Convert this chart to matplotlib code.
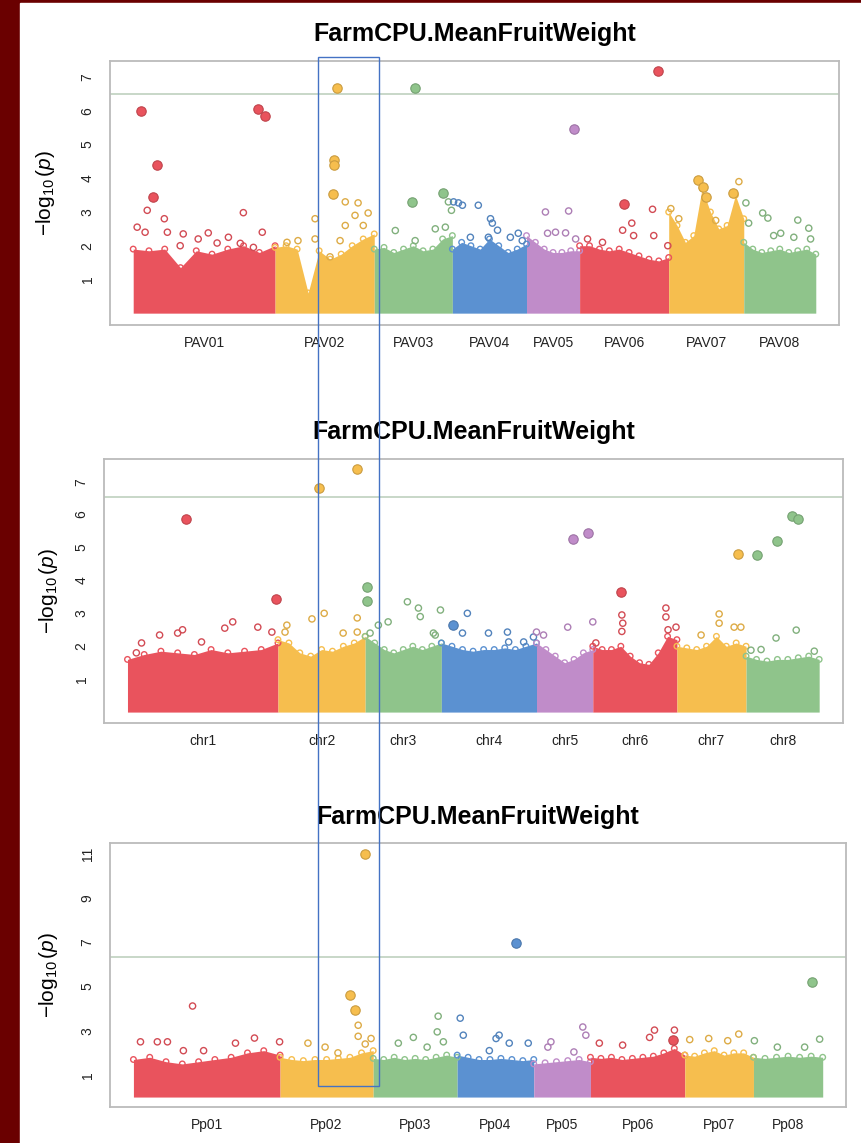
import numpy as np
import matplotlib.pyplot as plt
from matplotlib.patches import Rectangle
from matplotlib.colors import to_rgb

plt.rcParams['font.family'] = ['Liberation Sans', 'DejaVu Sans']
plt.rcParams['mathtext.fontset'] = 'custom'
plt.rcParams['mathtext.rm'] = 'Liberation Sans'
plt.rcParams['mathtext.it'] = 'Liberation Sans:italic'

title = "FarmCPU.MeanFruitWeight"
chrom_colors = ['#E9535D', '#F6BE4E', '#8FC48B', '#5B91D1',
                '#C08CC9', '#E9535D', '#F6BE4E', '#8FC48B']

# ---- panel 1 : PAV markers ----
pav_names = ["PAV01", "PAV02", "PAV03", "PAV04", "PAV05", "PAV06", "PAV07", "PAV08"]
pav_lengths = [46.5, 32.5, 25.6, 24.3, 17.4, 29.2, 24.6, 23.6]
pav_bulk = [[1.9, 1.85, 1.9, 1.35, 1.85, 1.75, 1.9, 2.0, 1.8, 2.0],
            [1.95, 2.0, 1.9, 0.6, 1.85, 1.6, 1.75, 2.0, 2.2, 2.35],
            [1.9, 1.95, 1.8, 1.9, 2.0, 1.85, 1.9, 2.2, 2.3],
            [1.9, 2.1, 2.0, 1.9, 2.2, 2.0, 1.8, 1.9, 2.05],
            [2.3, 2.1, 1.9, 1.8, 1.8, 1.85, 1.85],
            [2.0, 2.0, 1.9, 1.85, 1.9, 1.8, 1.7, 1.6, 1.55, 1.65],
            [3.0, 2.6, 2.1, 2.3, 3.7, 3.0, 2.5, 2.6, 3.5, 2.8],
            [2.1, 1.9, 1.8, 1.85, 1.9, 1.8, 1.85, 1.9, 1.75]]
# (chromosome index, position Mb, -log10 p, filled)
pav_hits = [(0, 2.6, 6.0, 1), (0, 41.0, 6.05, 1), (0, 43.3, 5.85, 1), (0, 7.9, 4.4, 1),
            (0, 6.6, 3.45, 1), (0, 4.6, 3.05, 0), (0, 36.1, 2.98, 0), (0, 10.2, 2.8, 0),
            (0, 1.3, 2.55, 0), (0, 3.9, 2.4, 0), (0, 16.4, 2.35, 0), (0, 24.6, 2.38, 0),
            (0, 11.2, 2.4, 0), (0, 42.3, 2.4, 0), (0, 31.2, 2.25, 0), (0, 21.3, 2.2, 0),
            (0, 15.4, 2.0, 0), (0, 39.4, 1.95, 0), (0, 35.1, 2.07, 0), (0, 27.5, 2.08, 0),
            (1, 20.3, 6.68, 1), (1, 19.3, 4.55, 1), (1, 19.3, 4.4, 1), (1, 19.0, 3.53, 1),
            (1, 23.0, 3.3, 0), (1, 27.2, 3.27, 0), (1, 13.1, 2.8, 0), (1, 26.2, 2.9, 0),
            (1, 30.5, 2.97, 0), (1, 23.0, 2.6, 0), (1, 28.9, 2.6, 0), (1, 13.1, 2.2, 0),
            (1, 21.3, 2.15, 0), (1, 18.0, 1.67, 0), (1, 3.9, 2.1, 0), (1, 7.5, 2.15, 0),
            (2, 13.4, 6.68, 1), (2, 12.5, 3.3, 1), (2, 6.9, 2.45, 0), (2, 22.6, 3.55, 1),
            (2, 24.3, 3.3, 0), (2, 25.3, 3.05, 0), (2, 23.3, 2.55, 0), (2, 20.0, 2.5, 0),
            (2, 13.4, 2.15, 0),
            (3, 2.0, 3.27, 0), (3, 0.4, 3.3, 0), (3, 3.3, 3.2, 0), (3, 8.5, 3.2, 0),
            (3, 12.5, 2.8, 0), (3, 13.1, 2.67, 0), (3, 14.8, 2.46, 0), (3, 11.8, 2.25, 0),
            (3, 21.6, 2.37, 0), (3, 19.0, 2.25, 0), (3, 22.9, 2.15, 0), (3, 5.9, 2.25, 0),
            (4, 15.4, 5.46, 1), (4, 6.2, 3.0, 0), (4, 13.8, 3.03, 0), (4, 6.9, 2.37, 0),
            (4, 9.5, 2.4, 0), (4, 12.8, 2.38, 0), (4, 16.1, 2.2, 0),
            (5, 25.6, 7.18, 1), (5, 14.4, 3.23, 1), (5, 23.9, 3.08, 0), (5, 17.1, 2.67, 0),
            (5, 14.1, 2.46, 0), (5, 17.7, 2.3, 0), (5, 24.3, 2.3, 0), (5, 2.6, 2.2, 0),
            (5, 7.5, 2.1, 0), (5, 28.9, 2.0, 0),
            (6, 0.7, 3.1, 0), (6, 3.3, 2.8, 0), (6, 9.5, 3.95, 1), (6, 11.1, 3.75, 1),
            (6, 12.1, 3.45, 1), (6, 15.4, 2.75, 0), (6, 21.0, 3.55, 1), (6, 23.0, 3.9, 0),
            (7, 0.7, 3.27, 0), (7, 1.6, 2.67, 0), (7, 6.2, 2.97, 0), (7, 7.9, 2.82, 0),
            (7, 17.7, 2.76, 0), (7, 21.3, 2.52, 0), (7, 12.1, 2.37, 0), (7, 16.4, 2.25, 0),
            (7, 21.9, 2.2, 0), (7, 9.8, 2.3, 0)]
pav_threshold = 6.5

# ---- panel 2 : chr SNPs ----
chr_names = ["chr1", "chr2", "chr3", "chr4", "chr5", "chr6", "chr7", "chr8"]
chr_lengths = [49.2, 28.5, 24.9, 31.1, 18.4, 27.5, 22.6, 23.9]
chr_bulk = [[1.6, 1.75, 1.85, 1.8, 1.75, 1.9, 1.8, 1.85, 1.9, 2.1],
            [2.2, 2.1, 1.8, 1.7, 1.9, 1.85, 2.0, 2.1, 2.3],
            [2.3, 2.1, 1.9, 1.8, 1.9, 2.0, 1.9, 2.0, 2.1],
            [2.1, 2.0, 1.9, 1.85, 1.9, 1.9, 1.95, 1.9, 2.0, 2.1],
            [2.1, 1.9, 1.7, 1.5, 1.6, 1.8, 1.9],
            [2.0, 1.9, 1.9, 2.0, 1.7, 1.5, 1.45, 1.8, 2.3, 2.2],
            [2.0, 1.95, 1.9, 2.0, 2.3, 2.0, 2.1, 2.0],
            [1.7, 1.6, 1.55, 1.6, 1.6, 1.65, 1.7, 1.6]]
chr_hits = [(0, 19.0, 5.87, 1), (0, 48.5, 3.43, 1), (0, 34.4, 2.74, 0), (0, 31.8, 2.55, 0),
            (0, 42.6, 2.58, 0), (0, 18.0, 2.5, 0), (0, 16.4, 2.4, 0), (0, 10.5, 2.34, 0),
            (0, 47.2, 2.43, 0), (0, 4.6, 2.1, 0), (0, 24.2, 2.13, 0), (0, 2.9, 1.8, 0),
            (1, 13.4, 6.81, 1), (1, 25.9, 7.39, 1), (1, 11.1, 2.83, 0), (1, 15.1, 3.0, 0),
            (1, 25.9, 2.86, 0), (1, 25.9, 2.43, 0), (1, 2.9, 2.64, 0), (1, 2.3, 2.43, 0),
            (1, 21.3, 2.4, 0),
            (2, 0.7, 3.8, 1), (2, 0.7, 3.37, 1), (2, 13.8, 3.35, 0), (2, 17.4, 3.16, 0),
            (2, 18.0, 2.9, 0), (2, 24.6, 3.1, 0), (2, 22.3, 2.4, 0), (2, 7.5, 2.74, 0),
            (2, 4.3, 2.64, 0), (2, 1.6, 2.4, 0), (2, 22.9, 2.34, 0),
            (3, 8.5, 3.0, 0), (3, 3.9, 2.64, 1), (3, 6.9, 2.4, 0), (3, 15.4, 2.4, 0),
            (3, 21.6, 2.43, 0), (3, 22.0, 2.13, 0), (3, 26.9, 2.13, 0), (3, 30.1, 2.28, 0),
            (4, 11.8, 5.26, 1), (4, 16.7, 5.45, 1), (4, 18.4, 2.74, 0), (4, 10.2, 2.58, 0),
            (4, 0.0, 2.43, 0), (4, 2.3, 2.34, 0),
            (5, 9.2, 3.65, 1), (5, 9.5, 2.95, 0), (5, 9.8, 2.7, 0), (5, 9.5, 2.45, 0),
            (5, 23.9, 3.16, 0), (5, 23.9, 2.89, 0), (5, 24.6, 2.5, 0), (5, 27.2, 2.58, 0),
            (5, 1.0, 2.1, 0),
            (6, 20.0, 4.8, 1), (6, 13.8, 2.98, 0), (6, 13.8, 2.7, 0), (6, 7.9, 2.34, 0),
            (6, 18.7, 2.58, 0), (6, 20.9, 2.58, 0),
            (7, 3.6, 4.77, 1), (7, 10.2, 5.2, 1), (7, 15.1, 5.96, 1), (7, 17.1, 5.87, 1),
            (7, 16.4, 2.49, 0), (7, 9.8, 2.25, 0), (7, 1.6, 1.88, 0), (7, 4.9, 1.9, 0),
            (7, 22.3, 1.85, 0)]
chr_threshold = 6.54

# ---- panel 3 : Pp SNPs ----
pp_names = ["Pp01", "Pp02", "Pp03", "Pp04", "Pp05", "Pp06", "Pp07", "Pp08"]
pp_lengths = [47.85, 30.4, 27.4, 25.0, 18.5, 30.8, 22.4, 22.6]
pp_bulk = [[1.7, 1.8, 1.6, 1.5, 1.6, 1.7, 1.8, 2.0, 2.1, 1.9],
           [1.8, 1.7, 1.65, 1.7, 1.7, 1.75, 1.8, 2.0, 2.1],
           [1.75, 1.7, 1.8, 1.7, 1.75, 1.7, 1.8, 1.9, 1.8],
           [1.9, 1.8, 1.7, 1.7, 1.75, 1.7, 1.65, 1.7],
           [1.5, 1.55, 1.6, 1.65, 1.7, 1.6],
           [1.8, 1.75, 1.8, 1.7, 1.75, 1.8, 1.85, 2.0, 2.2, 1.9],
           [1.9, 1.85, 2.0, 2.1, 1.9, 2.0, 2.0, 1.8],
           [1.8, 1.75, 1.8, 1.85, 1.8, 1.85, 1.8]]
pp_hits = [(0, 19.3, 4.12, 0), (0, 2.3, 2.5, 0), (0, 7.8, 2.5, 0), (0, 11.1, 2.5, 0),
           (0, 39.5, 2.67, 0), (0, 47.7, 2.5, 0), (0, 16.3, 2.1, 0), (0, 22.9, 2.1, 0),
           (0, 33.3, 2.44, 0),
           (1, 27.8, 11.0, 1), (1, 22.9, 4.6, 1), (1, 24.5, 3.95, 1), (1, 25.5, 3.25, 0),
           (1, 25.5, 2.75, 0), (1, 29.7, 2.65, 0), (1, 27.8, 2.4, 0), (1, 9.1, 2.44, 0),
           (1, 14.7, 2.26, 0), (1, 18.9, 2.0, 0),
           (2, 13.1, 2.7, 0), (2, 21.2, 3.66, 0), (2, 20.9, 2.95, 0), (2, 22.9, 2.5, 0),
           (2, 8.2, 2.44, 0), (2, 17.6, 2.26, 0),
           (3, 19.3, 6.97, 1), (3, 1.0, 3.57, 0), (3, 2.0, 2.8, 0), (3, 13.7, 2.8, 0),
           (3, 12.7, 2.65, 0), (3, 17.0, 2.44, 0), (3, 23.2, 2.44, 0), (3, 10.5, 2.1, 0),
           (4, 16.0, 3.17, 0), (4, 17.0, 2.8, 0), (4, 5.6, 2.5, 0), (4, 4.6, 2.26, 0),
           (4, 13.1, 2.04, 0),
           (5, 20.9, 3.03, 0), (5, 19.3, 2.7, 0), (5, 27.4, 3.03, 0), (5, 26.8, 2.6, 1),
           (5, 10.5, 2.35, 0), (5, 2.9, 2.44, 0),
           (6, 17.6, 2.85, 0), (6, 7.8, 2.65, 0), (6, 14.0, 2.55, 0), (6, 1.6, 2.6, 0),
           (7, 19.0, 5.2, 1), (7, 21.6, 2.62, 0), (7, 0.3, 2.55, 0), (7, 7.8, 2.26, 0),
           (7, 16.7, 2.26, 0)]
pp_threshold = 6.35


def darker(c, f=0.82):
    r, g, b = to_rgb(c)
    return (r * f, g * f, b * f)


def manhattan(ax, names, lengths, bulk, hits, threshold, ylim, yticks, ylab_x):
    starts = np.concatenate([[0], np.cumsum(lengths)[:-1]])
    total = sum(lengths)
    for i in range(len(names)):
        col = chrom_colors[i]
        xs = np.linspace(starts[i], starts[i] + lengths[i], len(bulk[i]))
        ax.fill_between(xs, 0, bulk[i], color=col, lw=0, zorder=2)
        ax.scatter(xs, bulk[i], s=16, facecolors='none', edgecolors=col, lw=1, zorder=3)
    for c, pos, logp, filled in hits:
        col = chrom_colors[c]
        if filled:
            ax.scatter(starts[c] + pos, logp, s=46, color=col, edgecolors=darker(col),
                       lw=0.8, zorder=5)
        else:
            ax.scatter(starts[c] + pos, logp, s=20, facecolors='none',
                       edgecolors=darker(col, 0.9), lw=1.0, zorder=4)
    ax.axhline(threshold, color='#B9CDB9', lw=1.1, zorder=1)
    ax.set_xlim(-0.034 * total, total * 1.034)
    ax.set_ylim(*ylim)
    ax.set_xticks(starts + np.array(lengths) / 2)
    ax.set_xticklabels(names, fontsize=10, color='#222222')
    ax.set_yticks(yticks)
    ax.set_yticklabels([str(t) for t in yticks], rotation=90, va='center',
                       fontsize=10, color='#222222')
    ax.tick_params(axis='x', length=0, pad=8)
    ax.tick_params(axis='y', length=0, pad=11)
    for s in ax.spines.values():
        s.set_color('#BBBBBB')
        s.set_linewidth(1.3)
    ax.set_title(title, fontsize=18, fontweight='bold', pad=14)
    ax.set_ylabel(r'$-\log_{10}(\mathit{p})$', fontsize=15)
    ax.yaxis.set_label_coords(ylab_x, 0.5)


fig = plt.figure(figsize=(8.62, 11.43), dpi=100, facecolor='#6A0000')
fig.add_artist(Rectangle((20 / 862, 0), 842 / 862, 1140 / 1143,
                         transform=fig.transFigure, color='white', zorder=0))

ax1 = fig.add_axes([0.1276, 0.7157, 0.8457, 0.231])
manhattan(ax1, pav_names, pav_lengths, pav_bulk, pav_hits, pav_threshold,
          (-0.35, 7.48), [1, 2, 3, 4, 5, 6, 7], -0.073)

ax2 = fig.add_axes([0.1206, 0.3675, 0.857, 0.231])
manhattan(ax2, chr_names, chr_lengths, chr_bulk, chr_hits, chr_threshold,
          (-0.33, 7.69), [1, 2, 3, 4, 5, 6, 7], -0.06)

ax3 = fig.add_axes([0.1276, 0.0315, 0.854, 0.231])
manhattan(ax3, pp_names, pp_lengths, pp_bulk, pp_hits, pp_threshold,
          (-0.45, 11.5), [1, 3, 5, 7, 9, 11], -0.068)

# blue highlight box across the three panels
fig.add_artist(Rectangle((318 / 862, 1 - 1086 / 1143), 61 / 862, 1029 / 1143,
                         transform=fig.transFigure, fill=False,
                         edgecolor='#4472C4', lw=1.0, zorder=10))

plt.savefig("out.png", dpi=100, facecolor=fig.get_facecolor())
